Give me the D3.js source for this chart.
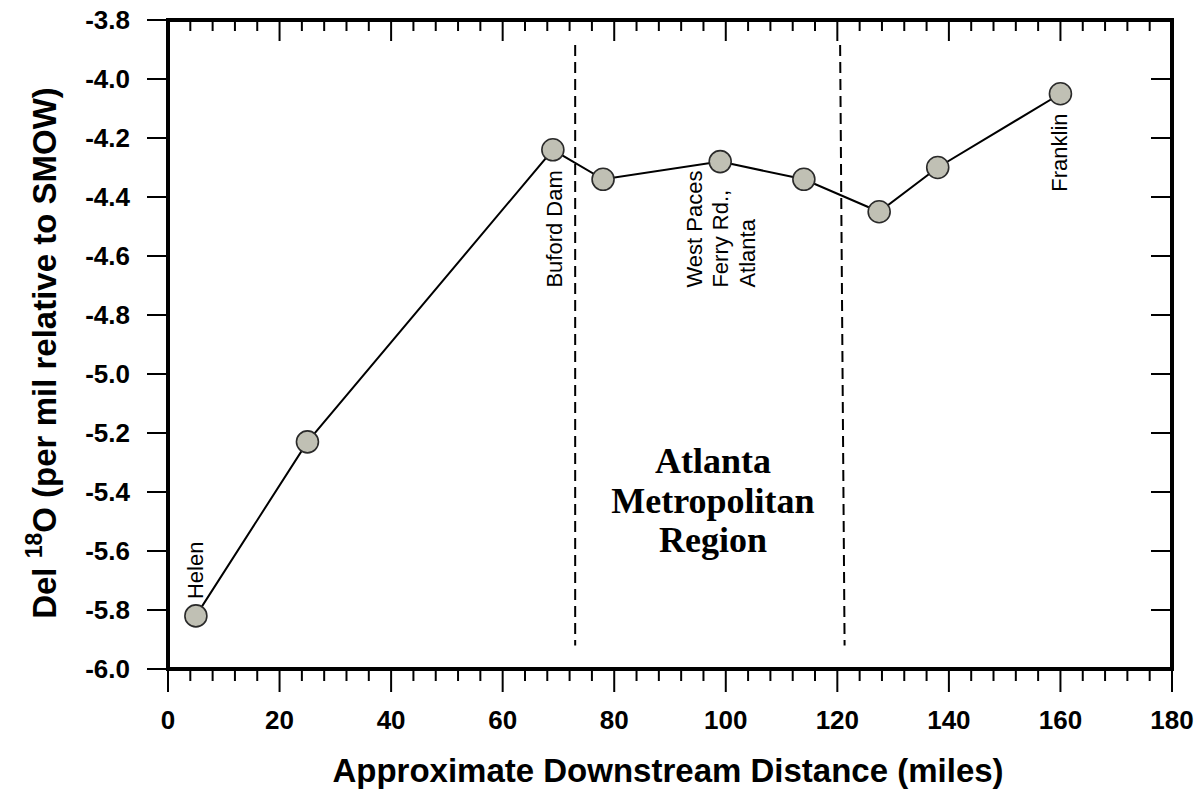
<!DOCTYPE html>
<html>
<head>
<meta charset="utf-8">
<script src="https://cdn.jsdelivr.net/npm/d3@7"></script>
<style>
  html, body { margin: 0; padding: 0; background: #fff; }
  svg { display: block; }
  text { font-family: "Liberation Sans", Arial, sans-serif; }
</style>
</head>
<body>
<svg id="chart" width="1199" height="796"></svg>
<script>
// Downstream distance (miles) and delta-18O (per mil vs SMOW) along the river
const distance = [5, 25, 69, 78, 99, 114, 127.5, 138, 160];
const del18O   = [-5.82, -5.23, -4.24, -4.34, -4.28, -4.34, -4.45, -4.30, -4.05];

// Axis ticks
const xTicks = [0, 20, 40, 60, 80, 100, 120, 140, 160, 180];
const xMinorTicks = d3.range(0, 181, 4);
const yTicks = [-3.8, -4.0, -4.2, -4.4, -4.6, -4.8, -5.0, -5.2, -5.4, -5.6, -5.8, -6.0];

// Boundaries of the metropolitan reach (top and bottom ends of each dashed line)
const boundaryTop    = [[73.0, -3.885], [120.5, -3.885]];
const boundaryBottom = [[73.0, -5.92],  [121.3, -5.92]];

// Site names: baseline x, start y (data units) and lines
const siteLabelX = [6.3, 70.6, 95.7, 161.2];
const siteLabelY = [-5.763, -4.707, -4.707, -4.382];
const siteLabelLines = [["Helen"], ["Buford Dam"], ["West Paces", "Ferry Rd.,", "Atlanta"], ["Franklin"]];

const regionLines = ["Atlanta", "Metropolitan", "Region"];
const regionX = 97.7, regionY = -5.336;

const svg = d3.select("#chart");
const plotLeft = 168, plotRight = 1172, plotTop = 20, plotBottom = 669;

const x = d3.scaleLinear().domain([0, 180]).range([plotLeft, plotRight]);
const y = d3.scaleLinear().domain([-6.0, -3.8]).range([plotBottom, plotTop]);

// Bottom axis: ticks outward
const gB = svg.append("g").attr("transform", `translate(0,${plotBottom})`);
gB.selectAll("line").data(xMinorTicks).join("line")
  .attr("x1", d => x(d)).attr("x2", d => x(d)).attr("y1", 0)
  .attr("y2", d => xTicks.includes(d) ? 23 : 12)
  .attr("stroke", "#000").attr("stroke-width", 2);
gB.selectAll("text").data(xTicks).join("text")
  .attr("x", d => x(d)).attr("y", 60)
  .attr("text-anchor", "middle")
  .style("font-size", "26px").style("font-weight", "bold")
  .text(d => d);

// Top axis: ticks inward
const gT = svg.append("g").attr("transform", `translate(0,${plotTop})`);
gT.selectAll("line").data(xMinorTicks).join("line")
  .attr("x1", d => x(d)).attr("x2", d => x(d)).attr("y1", 0)
  .attr("y2", d => xTicks.includes(d) ? 21 : 11)
  .attr("stroke", "#000").attr("stroke-width", 2);

// Left axis: ticks outward
const gL = svg.append("g").attr("transform", `translate(${plotLeft},0)`);
gL.selectAll("line").data(yTicks).join("line")
  .attr("x1", -21).attr("x2", 0)
  .attr("y1", d => y(d)).attr("y2", d => y(d))
  .attr("stroke", "#000").attr("stroke-width", 2);
gL.selectAll("text").data(yTicks).join("text")
  .attr("x", -38).attr("y", d => y(d)).attr("dy", "0.36em")
  .attr("text-anchor", "end")
  .style("font-size", "26px").style("font-weight", "bold")
  .text(d => d.toFixed(1));

// Right axis: ticks inward
const gR = svg.append("g").attr("transform", `translate(${plotRight},0)`);
gR.selectAll("line").data(yTicks).join("line")
  .attr("x1", -21).attr("x2", 0)
  .attr("y1", d => y(d)).attr("y2", d => y(d))
  .attr("stroke", "#000").attr("stroke-width", 2);

// Frame
svg.append("rect")
  .attr("x", plotLeft).attr("y", plotTop)
  .attr("width", plotRight - plotLeft).attr("height", plotBottom - plotTop)
  .attr("fill", "none").attr("stroke", "#000").attr("stroke-width", 4);

// Dashed boundaries
svg.selectAll("line.boundary").data(boundaryTop).join("line")
  .attr("class", "boundary")
  .attr("x1", d => x(d[0])).attr("y1", d => y(d[1]))
  .attr("x2", (d, i) => x(boundaryBottom[i][0])).attr("y2", (d, i) => y(boundaryBottom[i][1]))
  .attr("stroke", "#000").attr("stroke-width", 2)
  .attr("stroke-dasharray", "11,6");

// Connecting line
const pts = distance.map((d, i) => [d, del18O[i]]);
svg.append("path")
  .datum(pts)
  .attr("d", d3.line().x(d => x(d[0])).y(d => y(d[1])))
  .attr("fill", "none").attr("stroke", "#000").attr("stroke-width", 2);

// Sample points
svg.selectAll("circle.pt").data(pts).join("circle")
  .attr("class", "pt")
  .attr("cx", d => x(d[0])).attr("cy", d => y(d[1]))
  .attr("r", 11)
  .attr("fill", "#c0c0b4").attr("stroke", "#2a2a2a").attr("stroke-width", 1.6);

// Site labels (rotated, reading upward)
siteLabelLines.forEach((lines, i) => {
  const t = svg.append("text")
    .attr("transform", `translate(${x(siteLabelX[i])},${y(siteLabelY[i])}) rotate(-90)`)
    .attr("text-anchor", "start")
    .style("font-size", "22px");
  lines.forEach((ln, j) => {
    t.append("tspan").attr("x", 0).attr("y", j * 26.5).text(ln);
  });
});

// Region caption
const rt = svg.append("text")
  .attr("text-anchor", "middle")
  .style("font-family", "'Liberation Serif', 'Times New Roman', serif")
  .style("font-size", "36px").style("font-weight", "bold");
regionLines.forEach((ln, j) => {
  rt.append("tspan").attr("x", x(regionX)).attr("y", y(regionY) + j * 39.5).text(ln);
});

// Axis titles
svg.append("text")
  .attr("x", 668).attr("y", 782)
  .attr("text-anchor", "middle")
  .style("font-size", "33px").style("font-weight", "bold")
  .text("Approximate Downstream Distance (miles)");

const yt = svg.append("text")
  .attr("transform", "translate(56,353) rotate(-90)")
  .attr("text-anchor", "middle")
  .style("font-size", "33px").style("font-weight", "bold");
yt.append("tspan").text("Del ");
yt.append("tspan").attr("dy", -14).style("font-size", "23px").text("18");
yt.append("tspan").attr("dy", 14).text("O (per mil relative to SMOW)");
</script>
</body>
</html>
